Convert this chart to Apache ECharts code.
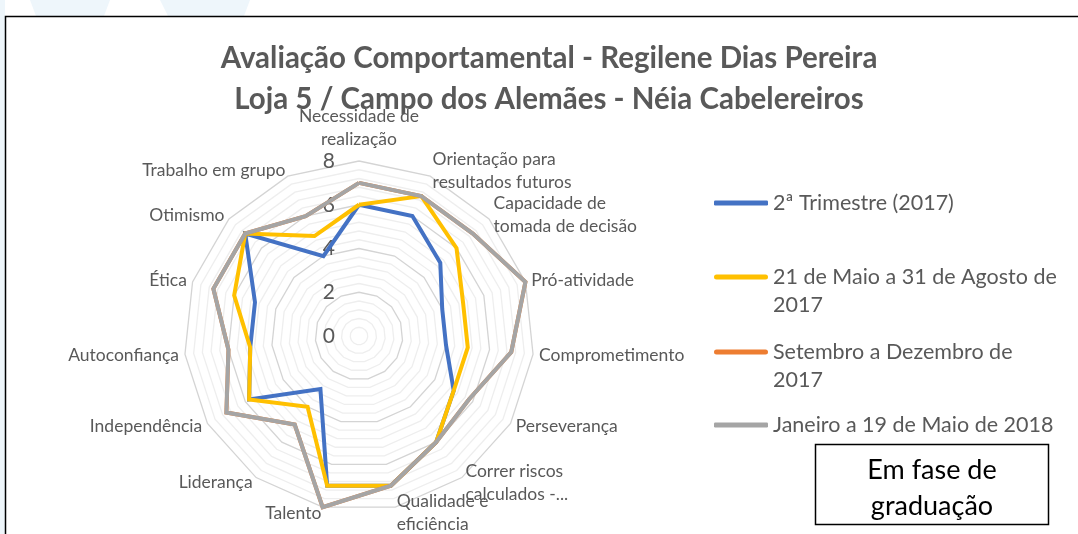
<!DOCTYPE html>
<html><head><meta charset="utf-8">
<script src="https://cdn.jsdelivr.net/npm/echarts@6/dist/echarts.min.js"></script>
<style>html,body{margin:0;padding:0;background:#fff}#c{width:1078px;height:534px}</style>
</head><body><div id="c"></div>
<script>
const titleLines = ['Avaliação Comportamental - Regilene Dias Pereira', 'Loja 5 / Campo dos Alemães - Néia Cabelereiros'];
const categories = ['Necessidade de\nrealização', 'Orientação para\nresultados futuros', 'Capacidade de\ntomada de decisão', 'Pró-atividade', 'Comprometimento', 'Perseverança', 'Correr riscos\ncalculados -...', 'Qualidade e\neficiência', 'Talento', 'Liderança', 'Independência', 'Autoconfiança', 'Ética', 'Otimismo', 'Trabalho em grupo'];
const seriesNames = ['2ª Trimestre (2017)', '21 de Maio a 31 de Agosto de 2017', 'Setembro a Dezembro de 2017', 'Janeiro a 19 de Maio de 2018'];
const trimestre2017 = [6, 6, 5, 4, 4, 5, 6, 7, 7, 3, 5.8, 5, 5, 7, 4];
const maioAgosto2017 = [6, 7, 6, 5, 5, 5, 6, 7, 7, 4, 5.8, 5, 6, 7, 5];
const setembroDezembro2017 = [7, 7, 7, 8, 7, 5.8, 6, 7, 8, 5, 7, 6, 7, 7, 6];
const janeiroMaio2018 = [7, 7, 7, 8, 7, 5.8, 6, 7, 8, 5, 7, 6, 7, 7, 6];
const axisMax = 8;
const tickLabels = ['0', '2', '4', '6', '8'];
const boxText = 'Em fase de\ngraduação';

const colors = ['#4472C4', '#FFC000', '#ED7D31', '#A5A5A5'];
const seriesValues = [trimestre2017, maioAgosto2017, setembroDezembro2017, janeiroMaio2018];
const n = categories.length;
// ECharts radar runs counter-clockwise; reorder so categories run clockwise from the top
const order = [0].concat(Array.from({length: n - 1}, (_, i) => n - 1 - i));
const FONT = 'Lato';

const indicators = order.map((idx, j) => {
  const ind = { name: categories[idx], max: axisMax, min: 0 };
  if (j === 0) {
    ind.axisLabel = {
      show: true,
      formatter: v => {
        const k = v / 2;
        return Math.abs(k - Math.round(k)) < 1e-6 ? tickLabels[Math.round(k)] : '';
      }
    };
  }
  return ind;
});

const chart = echarts.init(document.getElementById('c'), null, {renderer: 'canvas'});
const LH = 28;
const legendTwoLine = [false, true, true, false];
const legendTops = [189, 263, 338, 411];
// icon for two-line entries: rounded bar aligned with the first text line
const topBarIcon = 'path://M0,0h0.01v0.01h-0.01z M2.5,11.5h49a2.5,2.5 0 0 1 0,5h-49a2.5,2.5 0 0 1 0,-5z M0,55.99h0.01v0.01h-0.01z';
const legends = seriesNames.map((nm, i) => ({
  data: [nm],
  orient: 'vertical',
  left: 714,
  top: legendTops[i],
  padding: 0,
  icon: legendTwoLine[i] ? topBarIcon : 'roundRect',
  itemWidth: 54,
  itemHeight: legendTwoLine[i] ? 2 * LH : 5,
  selectedMode: false,
  textStyle: {
    fontFamily: FONT, fontSize: 21.5, color: '#595959', lineHeight: LH,
    width: 292, overflow: 'break'
  }
}));

chart.setOption({
  animation: false,
  backgroundColor: '#ffffff',
  title: {
    text: titleLines.join('\n'),
    left: 549, top: 37.5, padding: 0, textAlign: 'center',
    textStyle: {fontFamily: FONT, fontSize: 29.5, fontWeight: 'bold', color: '#595959', lineHeight: 41}
  },
  legend: legends,
  radar: {
    center: [359, 336],
    radius: 175,
    startAngle: 90,
    splitNumber: 20,
    shape: 'polygon',
    indicator: indicators,
    nameGap: 6,
    axisName: {color: '#595959', fontFamily: FONT, fontSize: 17.5, lineHeight: 23},
    axisLine: {show: false},
    axisTick: {show: false},
    axisLabel: {show: false, color: '#595959', fontFamily: FONT, fontSize: 21, margin: 24},
    splitArea: {show: false},
    splitLine: {lineStyle: {color: ['#d4d4d4', '#eeeeee', '#eeeeee', '#eeeeee', '#eeeeee'], width: 1.3}}
  },
  graphic: [
    {type: 'rect', silent: true, z: -10, shape: {x: 0, y: 0, width: 5, height: 534}, style: {fill: '#eef6fb'}},
    {type: 'polygon', silent: true, z: -10, shape: {points: [[30, 0], [110, 0], [104, 16], [36, 16]]}, style: {fill: '#eef6fb'}},
    {type: 'polygon', silent: true, z: -10, shape: {points: [[160, 0], [250, 0], [244, 16], [168, 16]]}, style: {fill: '#eef6fb'}},
    {type: 'rect', silent: true, z: -5, shape: {x: 5.5, y: 16.5, width: 1100, height: 540}, style: {fill: 'none', stroke: '#000', lineWidth: 1.5}},
    {type: 'group', silent: true, z: 10, children: [
      {type: 'rect', shape: {x: 815.5, y: 444.5, width: 233, height: 80}, style: {fill: '#fff', stroke: '#000', lineWidth: 1.5}},
      {type: 'text', x: 932, y: 488, style: {text: boxText, fill: '#000', font: '27px Lato', align: 'center', verticalAlign: 'middle', lineHeight: 36}}
    ]}
  ],
  series: [{
    type: 'radar',
    symbol: 'none',
    data: seriesValues.map((vals, i) => ({
      name: seriesNames[i],
      value: order.map(idx => vals[idx]),
      itemStyle: {color: colors[i]},
      lineStyle: {color: colors[i], width: 4, join: 'miter'}
    }))
  }]
});
</script></body></html>
